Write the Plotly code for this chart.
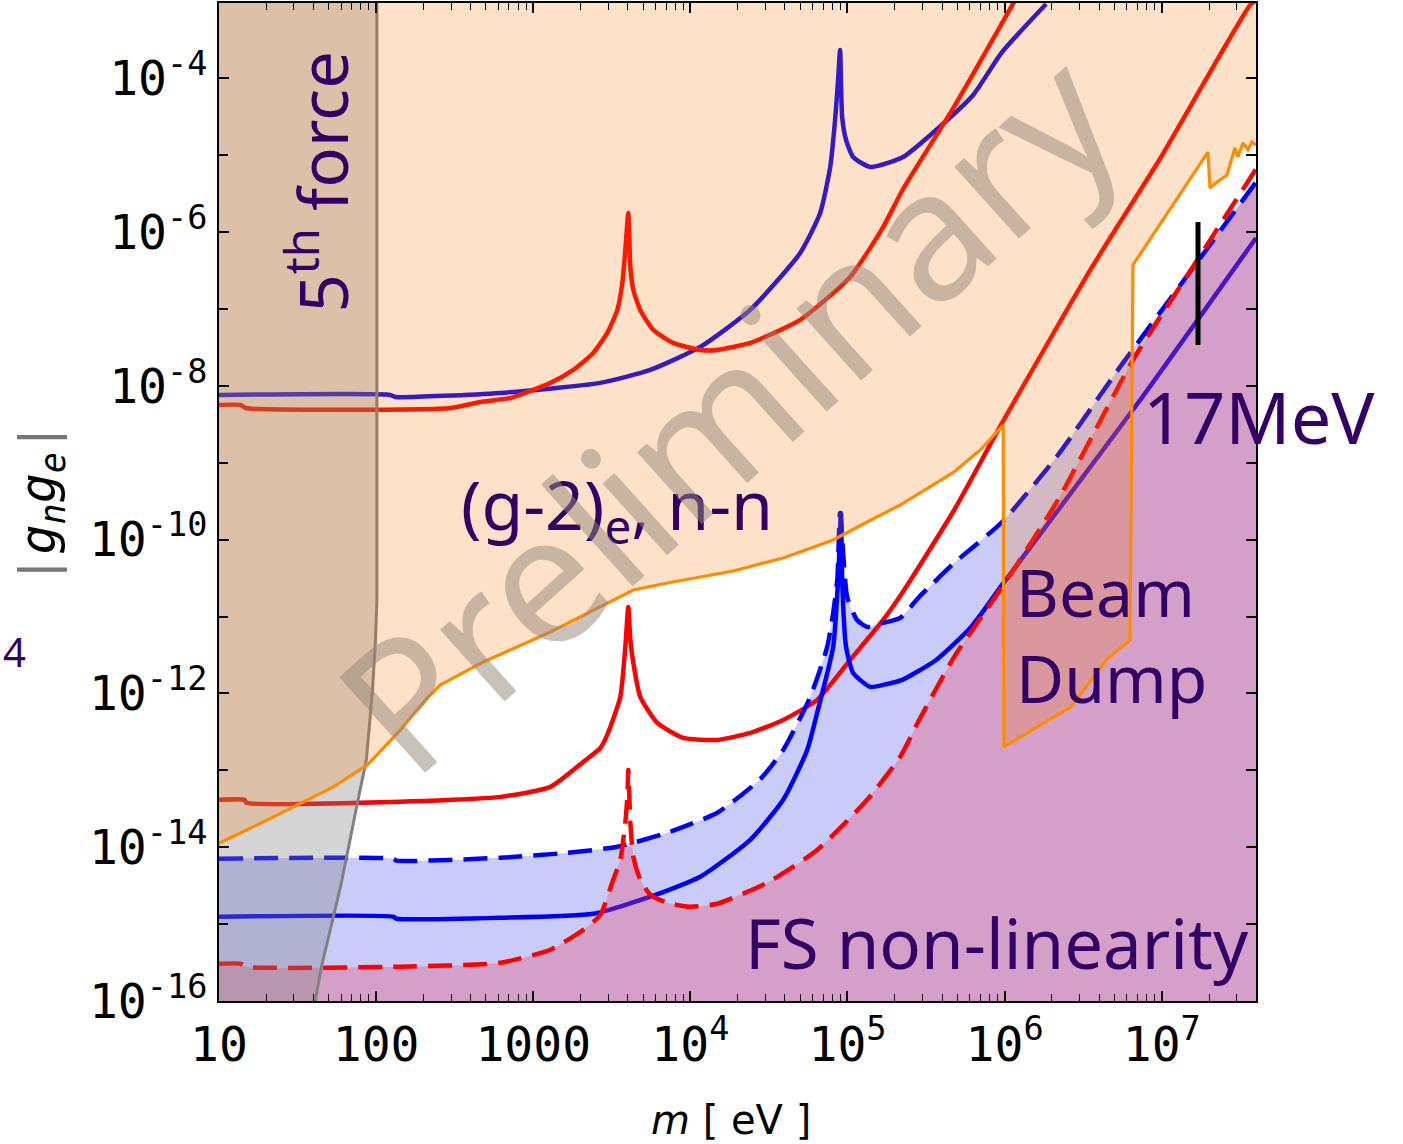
import numpy as np
import plotly.graph_objects as go

# ---------------- data (log10 m[eV], log10 |g_n g_e|) ----------------
UPPER_BLUE = [(1.0, -8.118), (2.091, -8.118), (2.123, -8.144), (2.791, -8.091), (3.427, -7.961),
              (3.745, -7.792), (4.063, -7.493), (4.381, -7.012), (4.699, -6.271), (4.826, -5.751),
              (4.890, -5.153), (4.921, -4.543), (4.940, -4.022), (4.953, -3.632), (4.966, -4.504),
              (4.991, -4.802), (5.036, -5.023), (5.144, -5.153), (5.354, -5.023), (5.564, -4.672),
              (5.800, -4.217), (5.979, -3.671), (6.264, -3.034)]

UPPER_RED = [(1.0, -8.248), (1.137, -8.248), (1.169, -8.287), (2.473, -8.287), (2.663, -8.209),
             (2.854, -8.157), (3.109, -7.961), (3.255, -7.792), (3.382, -7.571), (3.471, -7.311),
             (3.535, -7.012), (3.567, -6.661), (3.586, -6.232), (3.605, -5.751), (3.618, -6.453),
             (3.637, -6.752), (3.681, -7.012), (3.764, -7.272), (3.891, -7.441), (4.063, -7.532),
             (4.171, -7.532), (4.381, -7.441), (4.699, -7.142), (5.017, -6.583), (5.227, -5.934),
             (5.354, -5.439), (5.685, -4.347), (6.067, -2.982)]

LOWER_RED = [(1.0, -13.383), (1.162, -13.383), (1.175, -13.422), (2.155, -13.409), (2.791, -13.345),
             (3.109, -13.215), (3.319, -12.890), (3.427, -12.710), (3.471, -12.540), (3.554, -12.045),
             (3.586, -11.395), (3.605, -10.875), (3.618, -11.304), (3.637, -11.603), (3.681, -12.045),
             (3.790, -12.383), (3.955, -12.578), (4.171, -12.604), (4.381, -12.513), (4.591, -12.344),
             (4.807, -12.084), (5.017, -11.564), (5.227, -11.044), (5.348, -10.693), (5.679, -9.614),
             (5.984, -8.482), (6.557, -6.453), (6.996, -5.023), (7.563, -3.047), (7.60, -2.99)]

LOWER_BLUE = [(1.0, -14.904), (2.110, -14.904), (2.130, -14.930), (2.791, -14.917), (3.382, -14.865),
              (3.745, -14.644), (4.063, -14.384), (4.381, -13.903), (4.591, -13.383), (4.744, -12.734),
              (4.807, -12.253), (4.909, -11.395), (4.940, -10.524), (4.959, -9.653), (4.966, -10.524),
              (4.991, -11.395), (5.036, -11.733), (5.144, -11.915), (5.227, -11.889), (5.348, -11.824),
              (5.564, -11.564), (5.787, -11.135), (5.984, -10.589), (6.863, -8.183), (7.60, -6.076)]

BLUE_DASH = [(1.0, -14.150), (2.110, -14.150), (2.130, -14.175), (2.791, -14.137), (3.217, -14.072),
             (3.535, -13.994), (3.853, -13.812), (4.171, -13.552), (4.444, -13.116), (4.591, -12.734),
             (4.763, -12.045), (4.871, -11.395), (4.909, -10.953), (4.935, -10.524), (4.953, -9.653),
             (4.998, -10.745), (5.061, -11.044), (5.125, -11.135), (5.227, -11.083), (5.335, -11.018),
             (5.456, -10.745), (5.679, -10.303), (5.984, -9.770), (6.340, -8.897), (6.735, -7.753),
             (7.180, -6.518), (7.60, -5.35)]

RED_DASH = [(1.0, -15.515), (1.137, -15.515), (1.169, -15.554), (2.155, -15.554), (2.791, -15.502),
            (3.109, -15.333), (3.319, -15.073), (3.427, -14.878), (3.509, -14.423), (3.554, -14.163),
            (3.586, -13.682), (3.599, -13.345), (3.605, -12.994), (3.618, -13.682), (3.637, -14.124),
            (3.681, -14.423), (3.745, -14.618), (3.853, -14.722), (3.999, -14.774), (4.171, -14.735),
            (4.489, -14.462), (4.807, -14.035), (5.125, -13.383), (5.335, -12.825), (5.456, -12.345),
            (5.679, -11.525), (5.984, -10.615), (6.340, -9.483), (6.817, -7.662), (7.218, -6.389),
            (7.60, -5.18)]

# upper edge of the "FS non-linearity" region
FS_EDGE = [(1.0, -15.515), (1.137, -15.515), (1.169, -15.554), (2.155, -15.554), (2.791, -15.502),
           (3.109, -15.333), (3.319, -15.073), (3.427, -14.878), (3.509, -14.423), (3.554, -14.163),
           (3.580, -14.007), (3.627, -13.994), (3.637, -14.124), (3.681, -14.423), (3.745, -14.618),
           (3.853, -14.722), (3.999, -14.774), (4.171, -14.735), (4.489, -14.462), (4.807, -14.035),
           (5.125, -13.383), (5.335, -12.825), (5.456, -12.345), (5.679, -11.525), (5.984, -10.615),
           (6.340, -9.483), (6.817, -7.662), (7.180, -6.518), (7.60, -5.35)]

# lower edge of the "(g-2)_e, n-n" + beam dump region
ORANGE = [(1.0, -13.95), (1.3085, -13.645), (1.728, -13.215), (1.945, -12.929), (2.155, -12.474),
          (2.314, -12.084), (2.409, -11.889), (2.683, -11.590), (3.109, -11.200), (3.427, -10.875),
          (3.637, -10.654), (3.853, -10.563), (4.273, -10.407), (4.591, -10.238), (4.909, -10.004),
          (5.125, -9.770), (5.335, -9.549), (5.679, -9.119), (5.851, -8.821), (5.991, -8.508),
          (5.995, -12.695), (6.423, -12.175), (6.646, -11.564), (6.798, -11.304), (6.817, -6.427),
          (7.294, -4.958), (7.307, -5.426), (7.352, -5.348), (7.415, -5.257), (7.466, -4.906),
          (7.485, -5.023), (7.517, -4.841), (7.549, -4.932), (7.574, -4.828), (7.60, -4.87)]

# fifth-force bound
FIFTH_FORCE = [(2.005, -2.5), (2.005, -10.784), (1.996, -11.304), (1.977, -11.954), (1.938, -12.864),
               (1.906, -13.163), (1.881, -13.422), (1.843, -13.812), (1.811, -14.124), (1.779, -14.462),
               (1.728, -14.904), (1.652, -15.554), (1.614, -15.983), (1.601, -16.113)]

# 17 MeV marker
MARK_17MEV_LOGM = 7.231
MARK_17MEV_LOGG = [-5.869, -7.467]

X_TICKS = [1e1, 1e2, 1e3, 1e4, 1e5, 1e6, 1e7]
X_TICK_TEXT = ["10", "100", "1000", "10<sup>4</sup>", "10<sup>5</sup>", "10<sup>6</sup>", "10<sup>7</sup>"]
Y_LABEL_EXPONENTS = [-16, -14, -12, -10, -8, -6, -4]
Y_TICK_TEXT = [f"10<sup>{e}</sup>" for e in Y_LABEL_EXPONENTS]
Y_MINOR_EXPONENTS = [-15, -13, -11, -9, -7, -5, -3]

LOG_X_RANGE = [1.0, 7.6]
LOG_Y_RANGE = [-16.0, -3.02]


def unpack(pairs):
    a = np.array(pairs, dtype=float)
    return list(10 ** a[:, 0]), list(10 ** a[:, 1])


fig = go.Figure()

X_LO, X_HI, Y_LO, Y_HI = 10 ** 0.9, 10 ** 7.7, 1e-17, 1e-2
SMOOTH = 0.55
LW = 4.5


def fill_between(pairs, color, base_y, shape="linear"):
    """Fill from a boundary curve to a far-away horizontal base (above or below)."""
    x, y = unpack(pairs)
    fig.add_trace(go.Scatter(x=[X_LO, X_HI], y=[base_y, base_y], mode="lines",
                             line=dict(width=0), hoverinfo="skip"))
    line = dict(width=0, shape=shape)
    if shape == "spline":
        line["smoothing"] = SMOOTH
    fig.add_trace(go.Scatter(x=x, y=y, mode="lines", fill="tonexty", fillcolor=color,
                             line=line, hoverinfo="skip"))


def curve(pairs, color, width=LW, dash="solid", shape="spline"):
    x, y = unpack(pairs)
    line = dict(color=color, width=width, dash=dash, shape=shape)
    if shape == "spline":
        line["smoothing"] = SMOOTH
    fig.add_trace(go.Scatter(x=x, y=y, mode="lines", line=line, hoverinfo="skip"))


# light-blue band below the dashed blue curve
fill_between(BLUE_DASH, "rgba(0,10,225,0.21)", Y_LO, shape="spline")

# solid curves
curve(UPPER_BLUE, "rgb(0,0,255)")
curve(UPPER_RED, "rgb(255,0,0)")
curve(LOWER_RED, "rgb(255,0,0)")
curve(LOWER_BLUE, "rgb(0,0,255)")

# FS non-linearity region
fill_between(FS_EDGE, "rgba(238,63,89,0.30)", Y_LO, shape="spline")

# dashed curves
curve(BLUE_DASH, "rgb(0,0,255)", dash="24px,11px")
curve(RED_DASH, "rgb(255,0,0)", dash="24px,11px")

# fifth force region
ffx, ffy = unpack(FIFTH_FORCE)
fig.add_trace(go.Scatter(x=ffx + [X_LO, X_LO], y=ffy + [ffy[-1], ffy[0]], fill="toself",
                         fillcolor="rgba(128,128,128,0.33)", mode="lines", line=dict(width=0),
                         hoverinfo="skip"))
fig.add_trace(go.Scatter(x=ffx, y=ffy, mode="lines", line=dict(color="rgb(128,128,128)", width=3),
                         hoverinfo="skip"))

# (g-2)_e, n-n and beam dump region
fill_between(ORANGE, "rgba(245,120,0,0.21)", Y_HI)
curve(ORANGE, "rgb(255,140,0)", width=3.2, shape="linear")

# 17 MeV bar
fig.add_trace(go.Scatter(x=[10 ** MARK_17MEV_LOGM] * 2, y=[10 ** v for v in MARK_17MEV_LOGG],
                         mode="lines", line=dict(color="black", width=5), hoverinfo="skip"))

# invisible trace that carries the mirrored (top / right) tick axes
fig.add_trace(go.Scatter(x=[1e3], y=[1e-10], xaxis="x2", yaxis="y2", mode="lines",
                         line=dict(width=0), hoverinfo="skip"))

LABEL_FONT = dict(family="Noto Sans", color="#330066")


def label(text, lx, ly, size=66, xanchor="center", yanchor="middle", angle=0, align="center"):
    fig.add_annotation(text=text, x=lx, y=ly, xref="x", yref="y", showarrow=False,
                       xanchor=xanchor, yanchor=yanchor, textangle=angle, align=align,
                       font=dict(size=size, **LABEL_FONT))


label("5<sup>th</sup> force", 1.633, -5.336, size=67, angle=-90)
label("(g-2)<sub>e</sub>, n-n", 2.525, -9.576, size=68, xanchor="left")
label("Beam<br>Dump", 6.060, -11.23, size=66, xanchor="left", align="left")
label("FS non-linearity", 7.568, -15.234, size=69, xanchor="right")
label("17MeV", 6.870, -8.392, size=72, xanchor="left")

# watermark
fig.add_annotation(text="Preliminary", x=4.222, y=-8.313, xref="x", yref="y", showarrow=False,
                   textangle=-42, font=dict(family="Noto Sans", size=180, color="rgba(147,133,119,0.5)"))

# fragment at the left edge
fig.add_annotation(text="4", x=-0.2106, y=0.3497, xref="paper", yref="paper", showarrow=False,
                   xanchor="left", yanchor="middle", font=dict(family="Noto Sans", size=40, color="#330066"))

# axis titles
fig.add_annotation(text="<i>m</i> [ eV ]", x=0.494, y=-0.119, xref="paper", yref="paper",
                   showarrow=False, xanchor="center", yanchor="middle",
                   font=dict(family="DejaVu Sans", size=40, color="black"))
fig.add_annotation(text="<span style='color:#777'>|</span><i>g</i><sub><i>n</i></sub><i>g</i>"
                        "<sub><i>e</i></sub><span style='color:#777'>|</span>",
                   x=-0.171, y=0.499, xref="paper", yref="paper", showarrow=False,
                   xanchor="center", yanchor="middle", textangle=-90,
                   font=dict(family="DejaVu Sans Mono", size=50, color="black"))

TICK_FONT = dict(family="DejaVu Sans Mono", size=48, color="black")
minor_x = [k * 10 ** e for e in range(1, 8) for k in range(2, 10)]
minor_y = [10.0 ** e for e in Y_MINOR_EXPONENTS]

common = dict(ticks="inside", tickcolor="black", showgrid=False, zeroline=False)

fig.update_layout(
    xaxis=dict(type="log", range=LOG_X_RANGE, tickmode="array", tickvals=X_TICKS, ticktext=X_TICK_TEXT,
               ticklen=10, tickwidth=1.5, showline=True, linecolor="black", linewidth=2, mirror=True,
               tickfont=TICK_FONT, ticklabelstandoff=0,
               minor=dict(tickmode="array", tickvals=minor_x, ticks="inside", ticklen=7, tickwidth=1.2,
                          tickcolor="black", showgrid=False), **common),
    yaxis=dict(type="log", range=LOG_Y_RANGE, tickmode="array",
               tickvals=[10.0 ** e for e in Y_LABEL_EXPONENTS], ticktext=Y_TICK_TEXT,
               ticklen=10, tickwidth=1.5, showline=True, linecolor="black", linewidth=2, mirror=True,
               tickfont=TICK_FONT, ticklabelstandoff=0,
               minor=dict(tickmode="array", tickvals=minor_y, ticks="inside", ticklen=9, tickwidth=1.5,
                          tickcolor="black", showgrid=False), **common),
    xaxis2=dict(type="log", range=LOG_X_RANGE, overlaying="x", side="top", anchor="y2",
                tickmode="array", tickvals=X_TICKS, showticklabels=False, ticklen=10, tickwidth=1.5,
                minor=dict(tickmode="array", tickvals=minor_x, ticks="inside", ticklen=7, tickwidth=1.2,
                           tickcolor="black", showgrid=False), **common),
    yaxis2=dict(type="log", range=LOG_Y_RANGE, overlaying="y", side="right", anchor="x2",
                tickmode="array", tickvals=[10.0 ** e for e in range(-16, -2)], showticklabels=False,
                ticklen=10, tickwidth=1.5, **common),
    width=1403, height=1144, margin=dict(l=218.5, r=147, t=3, b=143, autoexpand=False),
    plot_bgcolor="white", paper_bgcolor="white", showlegend=False)

fig.write_html("out.html", config={"displayModeBar": False},
               post_script="document.body.style.margin='0';document.body.style.overflow='hidden';")
